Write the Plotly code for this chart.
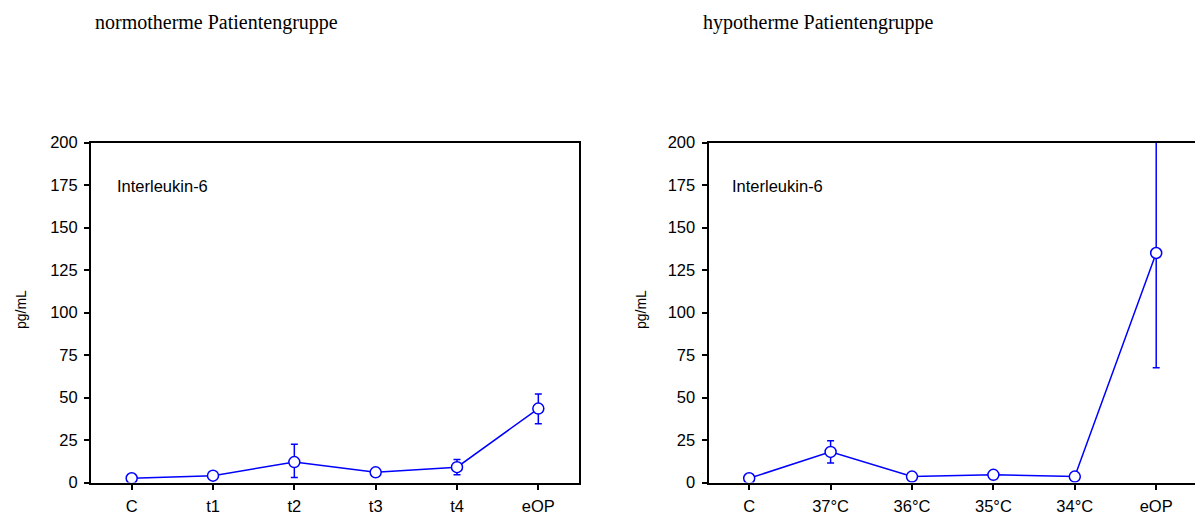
import plotly.graph_objects as go

W, H = 1195, 515

cats_norm = ["C", "t1", "t2", "t3", "t4", "eOP"]
vals_norm = [2.5, 4, 12, 6, 9, 43.5]
err_norm_plus = [0, 0, 10.5, 0, 4.5, 8.5]
err_norm_minus = [0, 0, 9, 0, 4.5, 9]

cats_hypo = ["C", "37°C", "36°C", "35°C", "34°C", "eOP"]
vals_hypo = [2.5, 18, 3.5, 4.5, 3.5, 135]
err_hypo_plus = [0, 6.5, 0, 0, 0, 67.5]
err_hypo_minus = [0, 6.5, 0, 0, 0, 67.5]

y_ticks = [0, 25, 50, 75, 100, 125, 150, 175, 200]

BLUE = "#0000ff"
FONT = "Liberation Sans, Arial, sans-serif"
SERIF = "Liberation Serif, Times New Roman, serif"

fig = go.Figure()

def add_series(cats, vals, ep, em, xa, ya):
    fig.add_trace(go.Scatter(
        x=list(range(len(cats))), y=vals, mode="lines+markers",
        xaxis=xa, yaxis=ya,
        line=dict(color=BLUE, width=1.5),
        marker=dict(symbol="circle", size=11, color="white",
                    line=dict(color=BLUE, width=1.5)),
        error_y=dict(type="data", symmetric=False, array=ep, arrayminus=em,
                     color=BLUE, thickness=1.5, width=3.5),
        showlegend=False, hoverinfo="skip",
    ))

add_series(cats_norm, vals_norm, err_norm_plus, err_norm_minus, "x", "y")
add_series(cats_hypo, vals_hypo, err_hypo_plus, err_hypo_minus, "x2", "y2")

ybot = 1 - 482.5 / H
ytop = 1 - 142.5 / H

axis_common = dict(showgrid=False, zeroline=False, showline=True,
                   linecolor="black", linewidth=2, ticks="outside",
                   ticklen=5, tickwidth=1.5, tickcolor="black", automargin=False,
                   ticklabelstandoff=3,
                   tickfont=dict(family=FONT, size=16.5, color="black"))

fig.update_layout(
    width=W, height=H,
    margin=dict(l=0, r=0, t=0, b=0, autoexpand=False),
    paper_bgcolor="white", plot_bgcolor="white",
    xaxis=dict(domain=[91 / W, 579 / W], range=[-0.5, 5.5],
               tickmode="array", tickvals=list(range(6)), ticktext=cats_norm,
               anchor="y", mirror=True, **axis_common),
    yaxis=dict(domain=[ybot, ytop], range=[0, 200], tickmode="array",
               tickvals=y_ticks, anchor="x", mirror=True, **axis_common),
    xaxis2=dict(domain=[708.5 / W, 1.0], range=[-0.5, -0.5 + (W - 708.5) / 81.4],
                tickmode="array", tickvals=list(range(6)), ticktext=cats_hypo,
                anchor="y2", mirror=True, **axis_common),
    yaxis2=dict(domain=[ybot, ytop], range=[0, 200], tickmode="array",
                tickvals=y_ticks, anchor="x2", mirror=False, **axis_common),
)

annots = [
    dict(text="normotherme Patientengruppe", x=93 / W, y=1 - 22 / H,
         font=dict(family=SERIF, size=20, color="black")),
    dict(text="hypotherme Patientengruppe", x=701 / W, y=1 - 22 / H,
         font=dict(family=SERIF, size=20, color="black")),
    dict(text="Interleukin-6", x=115 / W, y=1 - 186 / H,
         font=dict(family=FONT, size=16.5, color="black")),
    dict(text="Interleukin-6", x=730 / W, y=1 - 186 / H,
         font=dict(family=FONT, size=16.5, color="black")),
]
for a in annots:
    fig.add_annotation(xref="paper", yref="paper", xanchor="left", yanchor="middle",
                       showarrow=False, **a)

for xp in (21, 641):
    fig.add_annotation(text="pg/mL", xref="paper", yref="paper", x=xp / W, y=1 - 310 / H,
                       textangle=-90, showarrow=False, xanchor="center", yanchor="middle",
                       font=dict(family=FONT, size=14, color="black"))

fig.write_html("out.html")
